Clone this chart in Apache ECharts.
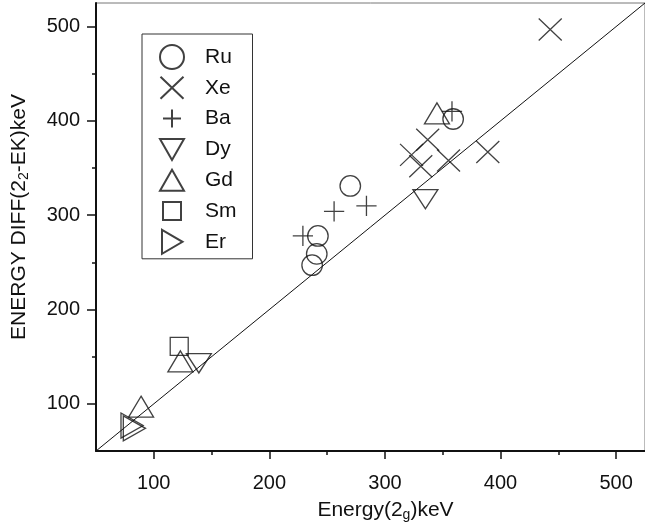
<!DOCTYPE html>
<html>
<head>
<meta charset="utf-8">
<script src="https://cdn.jsdelivr.net/npm/echarts@6/dist/echarts.min.js"></script>
<style>
  html, body { margin: 0; padding: 0; background: #fff; }
  #container { width: 645px; height: 532px; }
</style>
</head>
<body>
<div id="container"></div>
<script>
// values: [Energy(2g), ENERGY DIFF]
const ru = [[237, 247], [241, 259], [242, 278], [270, 331], [359, 402]];
const xe = [[323, 364], [331, 352], [337, 380], [355, 358], [389, 367], [443, 497]];
const ba = [[229, 278], [256, 304], [284, 310], [358, 410]];
const dy = [[139, 143], [335, 317]];
const gd = [[89, 97], [123, 145], [345, 408]];
const sm = [[122, 161]];
const er = [[83, 74], [81, 77]];
const diagonal = [[50, 50], [525, 525]];

const majorTicks = [100, 200, 300, 400, 500];
const minorTicks = [150, 250, 350, 450];
const axisMin = 50;
const axisMax = 525;

const font = 'Liberation Sans, Arial, sans-serif';
const ink = '#111';

// every shape lives in the same 24x24 box (the first two moves only set the box)
const symbols = {
  Ru: 'circle',
  Xe: 'path://M0,0M24,24M0.5,1L23.5,23M23.5,1L0.5,23',
  Ba: 'path://M0,0M24,24M12,3L12,21M3,12L21,12',
  Dy: 'path://M0,0M24,24M0,1.5L24,1.5L12,22.5Z',
  Gd: 'path://M0,0M24,24M12,1.5L24,22.5L0,22.5Z',
  Sm: 'path://M0,0M24,24M3,3L21,3L21,21L3,21Z',
  Er: 'path://M0,0M24,24M2,0L22.5,12L2,24Z'
};

function hollow(name, data, size) {
  return {
    name: name,
    type: 'scatter',
    data: data,
    symbol: symbols[name],
    symbolSize: size,
    itemStyle: { color: 'rgba(0,0,0,0)', borderColor: ink, borderWidth: 1.3 },
    emphasis: { disabled: true },
    z: 3
  };
}

const chart = echarts.init(document.getElementById('container'));

const tickLabel = { color: ink, fontSize: 20, fontFamily: font };

chart.setOption({
  animation: false,
  backgroundColor: '#fff',
  grid: {
    left: 96, top: 3, right: -5, bottom: 81,
    show: true, borderColor: '#777', borderWidth: 1
  },
  legend: {
    orient: 'vertical',
    left: 142, top: 34,
    padding: [10, 16, 4, 17],
    itemWidth: 56, itemHeight: 24, itemGap: 4.8,
    borderColor: '#333', borderWidth: 1,
    textStyle: { color: ink, fontSize: 21, fontFamily: font },
    data: ['Ru', 'Xe', 'Ba', 'Dy', 'Gd', 'Sm', 'Er']
  },
  xAxis: [{
    type: 'value', min: axisMin, max: axisMax,
    name: 'Energy(2{sub|g})keV',
    nameLocation: 'middle', nameGap: 47,
    nameTextStyle: {
      color: ink, fontSize: 21, fontFamily: font, padding: [0, 0, 0, 30],
      rich: { sub: { fontSize: 14, fontFamily: font, color: ink, padding: [10, 0, 0, 0] } }
    },
    axisLine: { show: true, lineStyle: { color: ink, width: 2 } },
    axisTick: { show: true, customValues: majorTicks, length: 8, lineStyle: { color: ink, width: 1.5 } },
    axisLabel: Object.assign({ customValues: majorTicks, margin: 22 }, tickLabel),
    splitLine: { show: false }
  }, {
    type: 'value', min: axisMin, max: axisMax, position: 'bottom',
    axisLine: { show: false },
    axisTick: { show: true, customValues: minorTicks, length: 4, lineStyle: { color: ink, width: 1.5 } },
    axisLabel: { show: false },
    splitLine: { show: false }
  }],
  yAxis: [{
    type: 'value', min: axisMin, max: axisMax,
    name: 'ENERGY DIFF(2{sub|2}-EK)keV',
    nameLocation: 'middle', nameGap: 65, nameRotate: 90,
    nameTextStyle: {
      color: ink, fontSize: 21, fontFamily: font, padding: [0, 0, 0, 20],
      rich: { sub: { fontSize: 14, fontFamily: font, color: ink, padding: [10, 0, 0, 0] } }
    },
    axisLine: { show: true, lineStyle: { color: ink, width: 2 } },
    axisTick: { show: true, customValues: majorTicks, length: 9, lineStyle: { color: ink, width: 1.5 } },
    axisLabel: Object.assign({ customValues: majorTicks, margin: 16 }, tickLabel),
    splitLine: { show: false }
  }, {
    type: 'value', min: axisMin, max: axisMax, position: 'left',
    axisLine: { show: false },
    axisTick: { show: true, customValues: minorTicks, length: 4, lineStyle: { color: ink, width: 1.5 } },
    axisLabel: { show: false },
    splitLine: { show: false }
  }],
  series: [
    {
      name: 'fit', type: 'line', data: diagonal, symbol: 'none', silent: true,
      lineStyle: { color: ink, width: 1 }, z: 2
    },
    hollow('Ru', ru, 20.5),
    hollow('Xe', xe, 24),
    hollow('Ba', ba, 27),
    hollow('Dy', dy, [25, 22]),
    hollow('Gd', gd, [25, 24]),
    hollow('Sm', sm, 24),
    hollow('Er', er, [26, 25])
  ]
});

window.onresize = () => { chart.resize(); };
</script>
</body>
</html>
